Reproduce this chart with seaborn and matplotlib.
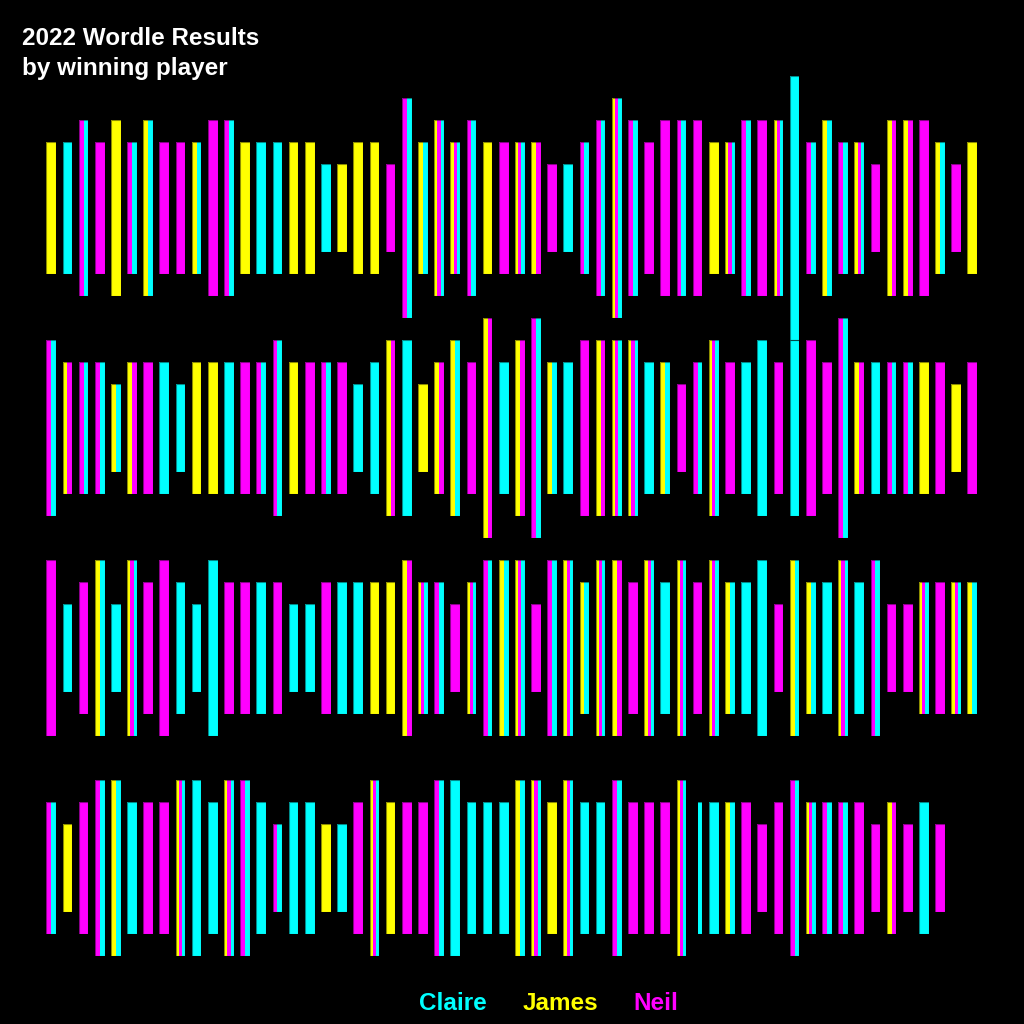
import pandas as pd
import matplotlib
matplotlib.use("Agg")
import matplotlib.pyplot as plt
import seaborn as sns

# colours of the three players (X = unknown stripe, drawn in background colour)
player_colors = {"Claire": "#00FFFF", "James": "#FFFF00", "Neil": "#FF00FF", "X": "#000000"}
codes = {"C": "Claire", "J": "James", "N": "Neil", "X": "X"}
legend_names = ["Claire", "James", "Neil"]

# winner(s) of each day, ties listed left to right; one list per printed row
winners_1 = ("J C NC N J NC JC N N JC N NC J C C J J C J J J N NC JC JNC JNC NC J N JNC "
             "JN N C NC NC JNC NC N N NC N J JNC NC N JNC C NC JC NC JNC N JN JN N JC N J").split()
guesses_1 = [4, 4, 3, 4, 3, 4, 3, 4, 4, 4, 3, 3, 4, 4, 4, 4, 4, 5, 5, 4, 4, 5, 2, 4, 3, 4, 3, 4, 4, 4,
             4, 5, 5, 4, 3, 2, 3, 4, 3, 3, 3, 4, 4, 3, 3, 3, 1, 4, 3, 4, 4, 5, 3, 3, 3, 4, 5, 4]

winners_2 = ("NC JN NC NC JC JN N C C J J C N NC NC J N NC N C C JN C J JN JC N JN C JN "
             "NC JC C N JN JNC JNC C JC N NC JNC N C C N C N N NC JN C NC NC J N J N").split()
guesses_2 = [3, 4, 4, 4, 5, 4, 4, 4, 5, 4, 4, 4, 4, 4, 3, 4, 4, 4, 4, 5, 4, 3, 3, 5, 4, 3, 4, 2, 4, 3,
             2, 4, 4, 3, 3, 3, 3, 4, 4, 5, 4, 3, 4, 4, 3, 4, 3, 3, 4, 2, 4, 4, 4, 4, 4, 4, 5, 4]

winners_3 = ("N C N JC C JNC N N C C C N N C N C C N C C J J JN JNC NC N JNC NC JC JNC "
             "N NC JNC JC JNC JN N JNC C JNC N JNC JC C C N JC JC C JNC C NC N N JNC N JNC JC").split()
guesses_3 = [3, 5, 4, 3, 5, 3, 4, 3, 4, 5, 3, 4, 4, 4, 4, 5, 5, 4, 4, 4, 4, 4, 3, 4, 4, 5, 4, 3, 3, 3,
             5, 3, 3, 4, 3, 3, 4, 3, 4, 3, 4, 3, 4, 4, 3, 5, 3, 4, 4, 3, 4, 3, 5, 5, 4, 4, 4, 4]

winners_4 = ("NC J N NC JC C N N JNC C C JNC NC C NC C C J C N JNC J N N NC C C C C JC "
             "JNC J JNC C C NC N N N JNC XC C JC N N N NC JNC NC NC N N JN N C N").split()
guesses_4 = [4, 5, 4, 3, 3, 4, 4, 4, 3, 3, 4, 3, 3, 4, 5, 4, 4, 5, 5, 4, 3, 4, 4, 4, 3, 3, 4, 4, 4, 3,
             3, 4, 3, 4, 4, 3, 4, 4, 4, 3, 4, 4, 4, 4, 5, 4, 3, 4, 4, 4, 4, 5, 4, 5, 4, 5]

all_winners = [winners_1, winners_2, winners_3, winners_4]
all_guesses = [guesses_1, guesses_2, guesses_3, guesses_4]

bar_w = 0.6
row_gap = 5

records = []
for r, (ws, gs) in enumerate(zip(all_winners, all_guesses)):
    for c, (code, g) in enumerate(zip(ws, gs)):
        for s, ch in enumerate(code):
            records.append({"row": r, "col": c, "player": codes[ch],
                            "stripe": s, "n": len(code), "guesses": g})
df = pd.DataFrame(records)
df["height"] = 7 - df["guesses"]
df["bottom"] = -row_gap * df["row"] - df["height"] / 2
df["w"] = bar_w / df["n"]
df["left"] = df["col"] - bar_w / 2 + df["stripe"] * df["w"]

sns.set_theme(style="dark", rc={"figure.facecolor": "black", "axes.facecolor": "black"})
plt.rcParams["font.family"] = ["Liberation Sans", "DejaVu Sans"]

fig = plt.figure(figsize=(10.24, 10.24), dpi=100)
ax = fig.add_axes([0, 0, 1, 1])
ax.set_facecolor("black")

for p, sub in df.groupby("player"):
    ax.bar(sub["left"], sub["height"], width=sub["w"], bottom=sub["bottom"],
           align="edge", color=player_colors[p], linewidth=0)

# thin dark outline round each day's bar
days = df.drop_duplicates(["row", "col"])
ax.bar(days["col"], days["height"], width=bar_w, bottom=days["bottom"],
       fill=False, edgecolor=(0, 0, 0, 0.45), linewidth=0.8)

ax.set_xlim(-3.168, 60.198)
ax.set_ylim(-18.541, 4.732)
ax.set_axis_off()

fig.text(22 / 1024, 1 - 27 / 1024, "2022 Wordle Results\nby winning player",
         ha="left", va="top", color="white", fontsize=17.5, fontweight="bold",
         linespacing=1.38)

for name, xc in zip(legend_names, [453, 560, 656]):
    fig.text(xc / 1024, 1 - 1003 / 1024, name, ha="center", va="center",
             color=player_colors[name], fontsize=17.5, fontweight="bold")

fig.savefig("out.png", dpi=100, facecolor="black")
